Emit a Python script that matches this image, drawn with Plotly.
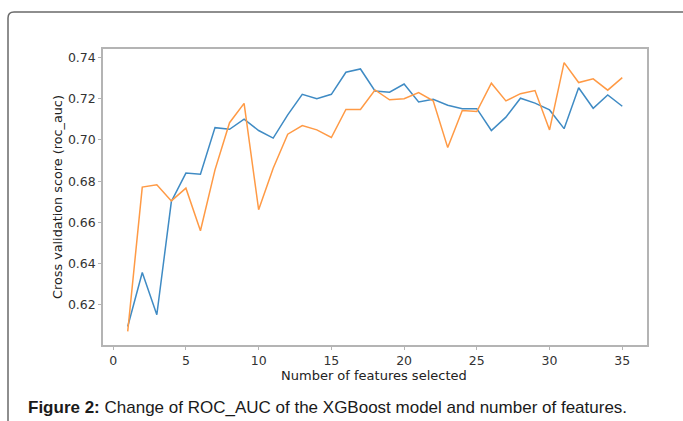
import plotly.graph_objects as go

# Number of features selected (x) and cross-validated ROC AUC for two runs
n_features = list(range(1, 36))

score_blue = [0.6094, 0.6356, 0.6151, 0.6701, 0.6839, 0.6834, 0.7060, 0.7052, 0.7101, 0.7046,
              0.7009, 0.7122, 0.7222, 0.7200, 0.7222, 0.7329, 0.7345, 0.7238, 0.7232, 0.7272,
              0.7185, 0.7198, 0.7169, 0.7152, 0.7152, 0.7046, 0.7111, 0.7203, 0.7179, 0.7146,
              0.7055, 0.7254, 0.7154, 0.7219, 0.7164]

score_orange = [0.6070, 0.6771, 0.6782, 0.6704, 0.6766, 0.6559, 0.6855, 0.7084, 0.7178, 0.6661,
                0.6863, 0.7028, 0.7070, 0.7049, 0.7012, 0.7148, 0.7148, 0.7243, 0.7195, 0.7200,
                0.7230, 0.7190, 0.6963, 0.7143, 0.7138, 0.7276, 0.7190, 0.7225, 0.7240, 0.7049,
                0.7376, 0.7279, 0.7297, 0.7242, 0.7303]

x_ticks = [0, 5, 10, 15, 20, 25, 30, 35]
y_ticks = [0.62, 0.64, 0.66, 0.68, 0.70, 0.72, 0.74]

W, H = 683, 421
L, R, T, B = 103, 36, 49, 76
pw, ph = W - L - R, H - T - B

fig = go.Figure()
fig.add_trace(go.Scatter(x=n_features, y=score_blue, mode="lines",
                         line=dict(color="#3f8bc4", width=1.5), showlegend=False))
fig.add_trace(go.Scatter(x=n_features, y=score_orange, mode="lines",
                         line=dict(color="#ff9a45", width=1.5), showlegend=False))

axis_common = dict(showline=True, mirror=True, linecolor="#b4b4b4", linewidth=1.5,
                   showgrid=False, zeroline=False, ticks="outside", ticklen=3,
                   tickcolor="#b4b4b4", tickwidth=1,
                   tickfont=dict(family="DejaVu Sans", size=12.5, color="#333333"))

fig.update_xaxes(range=[-0.7, 36.7], tickvals=x_ticks, **axis_common)
fig.update_yaxes(range=[0.6004, 0.7442], tickvals=y_ticks,
                 tickformat=".2f", **axis_common)


def px(x):
    return (x - L) / pw


def py(y):
    return (H - B - y) / ph


# Rounded outer frame (top and left edges visible)
x0, y0, r = 8, 12, 6
frame_path = (f"M {px(x0)},{py(H + 10)} L {px(x0)},{py(y0 + r)} "
              f"Q {px(x0)},{py(y0)} {px(x0 + r)},{py(y0)} L {px(W + 10)},{py(y0)}")
fig.add_shape(type="path", path=frame_path, xref="paper", yref="paper",
              line=dict(color="#6a6a6a", width=1.5))

fig.add_annotation(text="Number of features selected", xref="paper", yref="paper",
                   x=px(374), y=py(375), showarrow=False,
                   font=dict(family="DejaVu Sans", size=13, color="#222222"),
                   xanchor="center", yanchor="middle")
fig.add_annotation(text="Cross validation score (roc_auc)", xref="paper", yref="paper",
                   x=px(57), y=py(197), showarrow=False, textangle=-90,
                   font=dict(family="DejaVu Sans", size=12.8, color="#222222"),
                   xanchor="center", yanchor="middle")
fig.add_annotation(text="<b>Figure 2:</b> Change of ROC_AUC of the XGBoost model and number of features.",
                   xref="paper", yref="paper", x=px(26), y=py(407), showarrow=False,
                   font=dict(family="Liberation Sans", size=17, color="#1a1a1a"),
                   xanchor="left", yanchor="middle")

fig.update_layout(width=W, height=H, margin=dict(l=L, r=R, t=T, b=B),
                  paper_bgcolor="white", plot_bgcolor="white")

fig.write_html("out.html")
